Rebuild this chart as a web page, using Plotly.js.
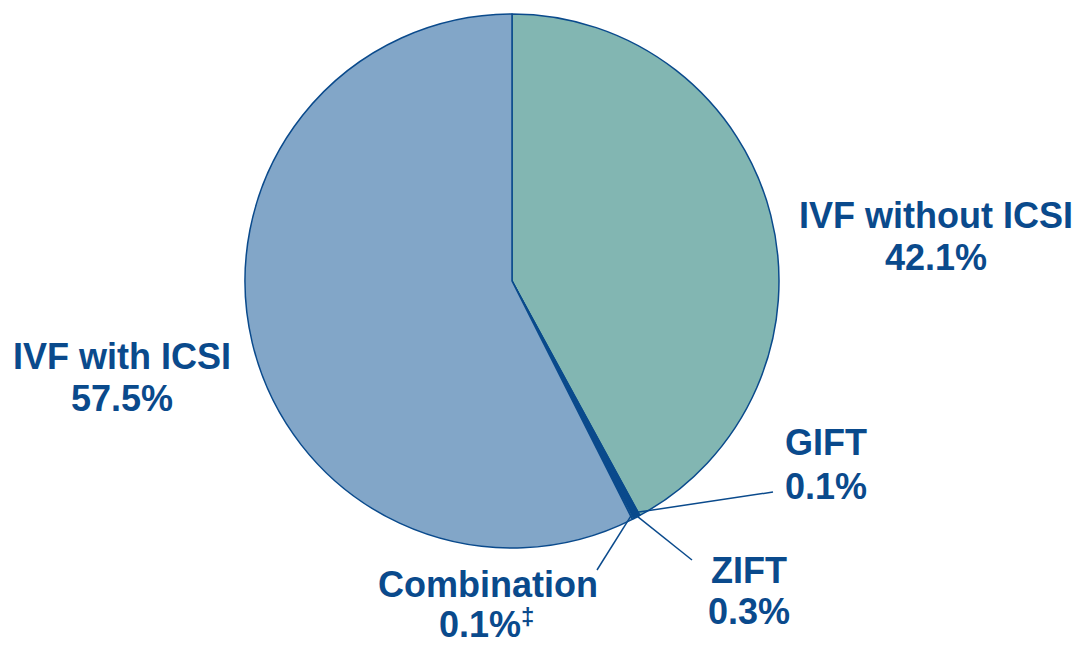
<!DOCTYPE html>
<html><head><meta charset="utf-8">
<script src="https://cdn.plot.ly/plotly-3.0.1.min.js"></script>
<style>html,body{margin:0;padding:0;background:#fff}#chart{width:1081px;height:646px}</style>
</head><body><div id="chart"></div>
<script>
const categories = ["IVF without ICSI", "GIFT", "ZIFT", "Combination", "IVF with ICSI"];
const values = [42.1, 0.1, 0.3, 0.1, 57.5];
const valueLabels = ["42.1%", "0.1%", "0.3%", "0.1%", "57.5%"];
const footnoteMarks = ["", "", "", "‡", ""];
const colors = ["#82b6b2", "#0a4a8c", "#0a4a8c", "#82b6b2", "#82a6c8"];

const W = 1081, H = 646;
const cx = 512, cy = 281, R = 267;
const px = x => x / W, py = y => 1 - y / H;

// label positions (pixel): name line centre, value line centre, leader end
const labelPos = [
  {x: 936, y1: 216, y2: 258, line: null},
  {x: 826, y1: 442, y2: 486, line: [773, 492]},
  {x: 749, y1: 570, y2: 611, line: [692, 560]},
  {x: 488, x2: 480, y1: 584, y2: 624, line: [597, 570]},
  {x: 122, y1: 356, y2: 398, line: null}
];

const font = {family: 'Liberation Sans, Arial, sans-serif', size: 36, color: '#0a4a8c', weight: 'bold'};
const smallFont = Object.assign({}, font, {size: 24});
const total = values.reduce((a, b) => a + b, 0);
let cum = 0;
const shapes = [], annotations = [];
values.forEach((v, i) => {
  const mid = (cum + v / 2) / total * 2 * Math.PI;
  cum += v;
  const lp = labelPos[i];
  const vx = lp.x2 !== undefined ? lp.x2 : lp.x;
  annotations.push({x: px(lp.x), y: py(lp.y1), xref: 'paper', yref: 'paper',
    xanchor: 'center', yanchor: 'middle', showarrow: false, text: categories[i], font: font, borderpad: 0});
  annotations.push({x: px(vx), y: py(lp.y2), xref: 'paper', yref: 'paper',
    xanchor: 'center', yanchor: 'middle', showarrow: false, text: valueLabels[i], font: font, borderpad: 0});
  if (footnoteMarks[i]) {
    annotations.push({x: px(vx + 40), y: py(lp.y2 - 8), xref: 'paper', yref: 'paper',
      xanchor: 'left', yanchor: 'middle', showarrow: false, text: footnoteMarks[i], font: smallFont, borderpad: 0});
  }
  if (lp.line) {
    const tx = cx + R * 0.985 * Math.sin(mid), ty = cy - R * 0.985 * Math.cos(mid);
    shapes.push({type: 'line', xref: 'paper', yref: 'paper',
      x0: px(tx), y0: py(ty), x1: px(lp.line[0]), y1: py(lp.line[1]),
      line: {color: '#0a4a8c', width: 1.5}});
  }
});

const trace = {
  type: 'pie', labels: categories, values: values, sort: false,
  direction: 'clockwise', rotation: 0, textinfo: 'none', hoverinfo: 'label+percent',
  marker: {colors: colors, line: {color: '#0a4a8c', width: 1.5}},
  domain: {x: [px(cx - R), px(cx + R)], y: [py(cy + R), py(cy - R)]},
  showlegend: false
};

Plotly.newPlot('chart', [trace], {
  width: W, height: H, margin: {l: 0, r: 0, t: 0, b: 0},
  paper_bgcolor: '#fff', showlegend: false, shapes: shapes, annotations: annotations
}, {displayModeBar: false, staticPlot: true});
</script></body></html>
